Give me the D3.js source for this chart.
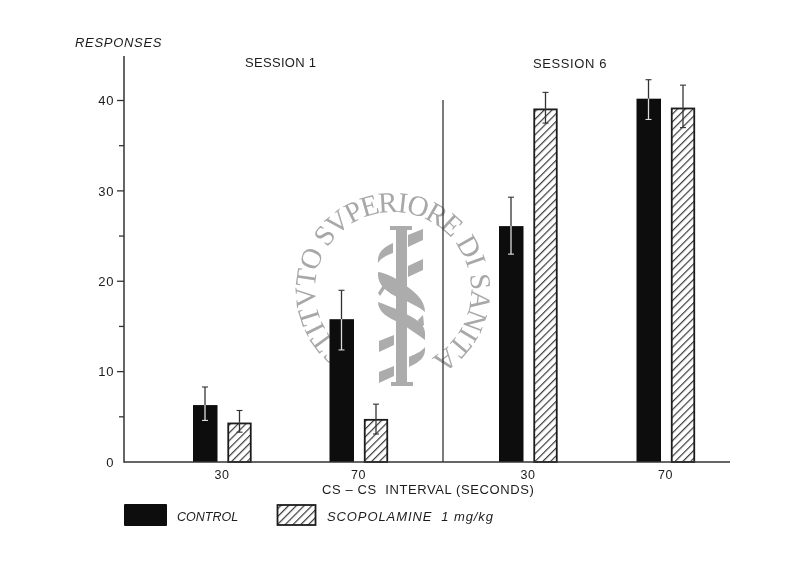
<!DOCTYPE html>
<html><head><meta charset="utf-8">
<script src="https://cdn.jsdelivr.net/npm/d3@7"></script>
<style>
html,body{margin:0;padding:0;background:#fff}
svg{display:block}
text{font-family:"Liberation Sans",sans-serif;fill:#1c1c1c}
</style></head><body>
<svg id="c" width="800" height="578"></svg>
<script>
const groups = ["s1-30","s1-70","s6-30","s6-70"];
const intervalLabels = ["30","70","30","70"];
const series = ["control","scopolamine"];
const controlValues = [6.3,15.8,26.1,40.2];
const controlHigh = [8.3,19.0,29.3,42.3];
const controlLow = [4.6,12.4,23.0,37.9];
const scopolamineValues = [4.35,4.75,39.1,39.2];
const scopolamineHigh = [5.7,6.4,40.9,41.7];
const scopolamineLow = [3.3,3.1,37.5,37.0];
const yMajorTicks = [0,10,20,30,40];
const yMinorTicks = [5,15,25,35];
const sessionTitles = ["SESSION 1","SESSION 6"];
const xTitle = "CS – CS  INTERVAL (SECONDS)";
const yTitle = "RESPONSES";
const legendLabels = ["CONTROL","SCOPOLAMINE  1 mg/kg"];
const watermarkText = "ISTITVTO SVPERIORE DI SANITA";

const svg = d3.select("#c");
const y = d3.scaleLinear().domain([0,40]).range([462,100.5]);
const x = d3.scaleOrdinal().domain(groups).range([222,358.5,528,665.5]);
const off = d3.scaleOrdinal().domain(series).range([-17,17.5]);
const barW = 24;
const ink = "#0c0c0c";

const defs = svg.append("defs");
defs.append("filter").attr("id","soft").attr("x",0).attr("y",0).attr("width",1).attr("height",1)
  .attr("filterUnits","objectBoundingBox")
  .append("feGaussianBlur").attr("stdDeviation",0.35);
const root = svg.append("g").attr("filter","url(#soft)");
root.append("rect").attr("width",800).attr("height",578).attr("fill","#fff");
const pat = defs.append("pattern").attr("id","hatch").attr("patternUnits","userSpaceOnUse")
  .attr("width",5.5).attr("height",5.5).attr("patternTransform","rotate(-45)");
pat.append("rect").attr("width",5.5).attr("height",5.5).attr("fill","#fff");
pat.append("rect").attr("width",5.5).attr("height",1.2).attr("fill","#3a3a3a");

// watermark: staff, serpent and one text per letter around a circle
const wm = root.append("g").attr("class","watermark").attr("fill","#acacac");
const wcx=393, wcy=290, wr=78;
const letters = wm.append("g").selectAll("text").data(Array.from(watermarkText)).join("text")
  .style("font-family","'Liberation Serif',serif").style("font-size","29px").style("fill","#a8a8a8")
  .attr("text-anchor","middle").text(d=>d===" "?"\u00a0":d);
const widths = letters.nodes().map(n=>n.getComputedTextLength()+1);
let acc=0; const centers = widths.map(w=>{const c=acc+w/2; acc+=w; return c;});
const ang = d3.scaleLinear().domain([centers[0],centers[centers.length-1]]).range([-146,143]);
letters.attr("transform",(d,i)=>{
  const a=ang(centers[i]), r=a*Math.PI/180;
  return `translate(${wcx+wr*Math.sin(r)},${wcy-wr*Math.cos(r)}) rotate(${a})`;
});
wm.append("rect").attr("x",396).attr("y",226).attr("width",11).attr("height",160);
wm.append("rect").attr("x",390).attr("y",226).attr("width",22).attr("height",4);
wm.append("rect").attr("x",391).attr("y",382).attr("width",22).attr("height",4);
["M408 235L423 229L423 240L408 247Z","M408 266L423 259L423 270L408 277Z",
 "M379 341L394 335L394 345L379 352Z","M379 372L394 366L394 376L379 383Z",
 "M378 263C377 252,384 247,393 243L393 253C387 255,381 258,378 263Z",
 "M378 272C386 273,396 278,405 285C415 292,425 300,425 312C418 306,408 302,397 297C387 292,377 285,378 272Z",
 "M378 302C386 305,392 307,400 311C410 316,425 322,425 333L425 340C418 335,410 329,400 323C388 318,378 312,378 302Z",
 "M425 347C426 357,420 362,409 367L409 357C416 354,422 351,425 347Z",
 "M378 293L383 285L386 287L380 296Z","M418 320L423 315L424 325L420 328Z"
].forEach(p=>wm.append("path").attr("d",p));

// bars
const rows = groups.flatMap((g,i)=>[
  {g,s:"control",v:controlValues[i],hi:controlHigh[i],lo:controlLow[i]},
  {g,s:"scopolamine",v:scopolamineValues[i],hi:scopolamineHigh[i],lo:scopolamineLow[i]}]);
const cxOf = d=>x(d.g)+off(d.s);
root.append("g").selectAll("rect").data(rows).join("rect")
  .attr("x",d=>cxOf(d)-barW/2+(d.s==="control"?0:0.75))
  .attr("y",d=>y(d.v)+(d.s==="control"?0:0.75))
  .attr("width",d=>d.s==="control"?barW+0.5:barW-1.5)
  .attr("height",d=>y(0)-y(d.v)-(d.s==="control"?0:0.75))
  .attr("fill",d=>d.s==="control"?ink:"url(#hatch)")
  .attr("stroke",d=>d.s==="control"?"none":"#1c1c1c").attr("stroke-width",1.8);
// error bars
const err = root.append("g").selectAll("g").data(rows).join("g");
const errCol = (d,part)=>part==="lo"&&d.s==="control"?"#ddd":"#333";
err.append("line").attr("x1",cxOf).attr("x2",cxOf).attr("y1",d=>y(d.hi)).attr("y2",d=>y(d.v))
  .attr("stroke","#333").attr("stroke-width",1.3);
err.append("line").attr("x1",cxOf).attr("x2",cxOf).attr("y1",d=>y(d.v)).attr("y2",d=>y(d.lo))
  .attr("stroke",d=>errCol(d,"lo")).attr("stroke-width",1.3);
err.append("line").attr("x1",d=>cxOf(d)-3).attr("x2",d=>cxOf(d)+3).attr("y1",d=>y(d.hi)).attr("y2",d=>y(d.hi))
  .attr("stroke","#333").attr("stroke-width",1.1);
err.append("line").attr("x1",d=>cxOf(d)-3).attr("x2",d=>cxOf(d)+3).attr("y1",d=>y(d.lo)).attr("y2",d=>y(d.lo))
  .attr("stroke",d=>errCol(d,"lo")).attr("stroke-width",1.1);

// axes
const line=(x1,y1,x2,y2,w)=>root.append("line").attr("x1",x1).attr("y1",y1).attr("x2",x2).attr("y2",y2).attr("stroke","#333").attr("stroke-width",w);
line(124,56,124,462.7,1.5);
line(124,462,730,462,1.4);
line(443,100,443,462,1.3);
root.append("g").selectAll("line").data(yMajorTicks.slice(1)).join("line")
  .attr("x1",117).attr("x2",124).attr("y1",y).attr("y2",y).attr("stroke","#333").attr("stroke-width",1.3);
root.append("g").selectAll("line").data(yMinorTicks).join("line")
  .attr("x1",119).attr("x2",124).attr("y1",y).attr("y2",y).attr("stroke","#333").attr("stroke-width",1.3);
root.append("g").selectAll("text").data(yMajorTicks).join("text")
  .attr("x",114).attr("y",d=>y(d)+4.7).attr("text-anchor","end")
  .style("font-size","13px").attr("letter-spacing",0.6).text(d=>d);

root.append("g").selectAll("text").data(intervalLabels).join("text")
  .attr("x",(d,i)=>x(groups[i])).attr("y",478.5).attr("text-anchor","middle")
  .style("font-size","12.5px").attr("letter-spacing",0.6).text(d=>d);

const lab=(t,xp,yp,size,ls,it)=>root.append("text").attr("x",xp).attr("y",yp).style("font-size",size+"px")
  .attr("letter-spacing",ls).style("font-style",it?"italic":"normal").style("white-space","pre").text(t);
lab(yTitle,75,46.5,13,0.7,true);
lab(sessionTitles[0],245,67,13,0.3,false);
lab(sessionTitles[1],533,68,13,0.6,false);
lab(xTitle,322,493.5,13,0.6,false);

// legend
root.append("rect").attr("x",124).attr("y",504).attr("width",43).attr("height",22).attr("rx",1).attr("fill",ink);
root.append("rect").attr("x",277.5).attr("y",505).attr("width",38).attr("height",20).attr("fill","url(#hatch)").attr("stroke","#1c1c1c").attr("stroke-width",1.8);
lab(legendLabels[0],177,520.5,12.5,0,true);
lab(legendLabels[1],327,520.5,13,0.9,true);
</script>
</body></html>
